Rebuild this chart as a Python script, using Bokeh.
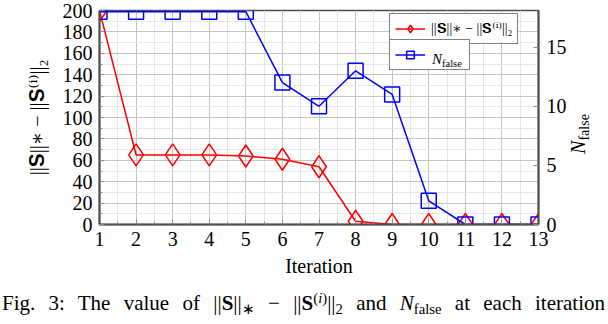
from bokeh.plotting import figure
from bokeh.layouts import column
from bokeh.models import (Range1d, LinearAxis, Legend, LegendItem, Div,
                          FixedTicker, ColumnDataSource)
from bokeh.embed import file_html
from bokeh.resources import INLINE

# ---- data ----
iterations = [1, 2, 3, 4, 5, 6, 7, 8, 9, 10, 11, 12, 13]
norm_gap = [200, 65, 65, 65, 64, 61, 54, 3, 0, 0, 0, 0, 0]
n_false = [18, 18, 18, 18, 18, 12, 10, 13, 11, 2, 0, 0, 0]
left_ticks = [0, 20, 40, 60, 80, 100, 120, 140, 160, 180, 200]
right_ticks = [0, 5, 10, 15]

FONT = "'Liberation Serif', 'DejaVu Serif'"
AX = "#4d4d4d"
NORM = "||𝐒||∗ − ||𝐒⁽ⁱ⁾||₂"

W, H = 608, 291
FL, FR, FT, FB = 99, 538, 10, 224   # frame edges in page pixels

p = figure(width=W, height=H, output_backend="svg", toolbar_location=None,
           title=None, x_range=Range1d(1, 13), y_range=Range1d(0, 200),
           min_border_left=FL, min_border_right=W - FR, min_border_top=FT,
           min_border_bottom=H - FB)
p.extra_y_ranges = {"right": Range1d(0, 18.1)}

src = ColumnDataSource(dict(it=iterations, gap=norm_gap, nf=n_false))

# grid
p.xgrid.ticker = FixedTicker(ticks=iterations,
                             minor_ticks=[i + 0.5 for i in iterations[:-1]])
p.xgrid.grid_line_color = "#c4c4c4"
p.xgrid.minor_grid_line_color = "#e6e6e6"
p.ygrid.ticker = FixedTicker(ticks=left_ticks,
                             minor_ticks=[t + 10 for t in left_ticks[:-1]])
p.ygrid.grid_line_color = "#c4c4c4"
p.ygrid.minor_grid_line_color = "#e6e6e6"
p.outline_line_color = AX
p.outline_line_width = 1.5

# axes
p.xaxis.ticker = FixedTicker(ticks=iterations,
                             minor_ticks=[i + 0.5 for i in iterations[:-1]])
p.yaxis.ticker = FixedTicker(ticks=left_ticks,
                             minor_ticks=[t + 10 for t in left_ticks[:-1]])
for ax in (p.xaxis[0], p.yaxis[0]):
    ax.axis_line_color = AX
    ax.axis_line_width = 2
    ax.major_tick_in = 5
    ax.major_tick_out = 0
    ax.minor_tick_in = 3
    ax.minor_tick_out = 0
    ax.major_tick_line_color = "#888888"
    ax.minor_tick_line_color = "#888888"
    ax.major_label_text_font = FONT
    ax.major_label_text_font_size = "20px"
    ax.major_label_text_color = "black"
    ax.axis_label_text_font = FONT
    ax.axis_label_text_font_size = "20px"
    ax.axis_label_text_font_style = "normal"
    ax.axis_label_text_color = "black"
p.xaxis.major_label_standoff = 7
p.yaxis.major_label_standoff = 7
p.xaxis.axis_label = "Iteration"
p.xaxis.axis_label_standoff = 6
p.yaxis.axis_label = NORM
p.yaxis.axis_label_standoff = 12

ry = LinearAxis(y_range_name="right", ticker=FixedTicker(ticks=right_ticks))
ry.axis_line_color = AX
ry.axis_line_width = 2
ry.major_tick_in = 5
ry.major_tick_out = 0
ry.minor_tick_in = 0
ry.minor_tick_out = 0
ry.major_tick_line_color = "#888888"
ry.major_label_text_font = FONT
ry.major_label_text_font_size = "20px"
ry.major_label_text_color = "black"
ry.major_label_standoff = 8
p.add_layout(ry, "right")

# series
rl = p.line("it", "gap", source=src, color="red", line_width=1.5)
rs = p.scatter("it", "gap", source=src, marker="diamond", size=22,
               line_color="red", fill_alpha=0, line_width=1.5)
bl = p.line("it", "nf", source=src, color="blue", line_width=1.5,
            y_range_name="right")
bs = p.scatter("it", "nf", source=src, marker="square", size=15,
               line_color="blue", fill_alpha=0, line_width=1.5,
               y_range_name="right")

def mk_legend(label, rends, loc, lw):
    lg = Legend(items=[LegendItem(label=label, renderers=rends)],
                location=loc, margin=0, padding=5, spacing=0,
                glyph_width=30, glyph_height=19, label_width=lw,
                label_text_font=FONT, label_text_font_size="14px",
                label_text_color="black",
                border_line_color="black", border_line_width=1,
                background_fill_alpha=1, label_standoff=6)
    p.add_layout(lg)
    return lg

mk_legend(NORM, [rl, rs], (290, 180), 80)
mk_legend(" ", [bl, bs], (290, 154), 33)

SERIF = "'Liberation Serif', serif"
SUB = ('style="font-size:70%;vertical-align:baseline;position:relative;'
       'top:0.3em;line-height:0"')
SUP = ('style="font-size:70%;vertical-align:baseline;position:relative;'
       'top:-0.5em;line-height:0"')

# N_false text inside the second legend box (HTML overlay)
leg2_text = Div(
    text=f'<i>N</i><sub {SUB}>false</sub>',
    width=40, height=18, margin=0,
    styles={"position": "absolute", "left": "432px", "top": "50px",
            "font-family": SERIF, "font-size": "15px", "color": "black",
            "line-height": "18px", "white-space": "nowrap"})

# right axis label, rotated (HTML overlay)
right_label = Div(
    text=f'<i>N</i><sub {SUB}>false</sub>',
    width=60, height=26, margin=0,
    styles={"position": "absolute", "left": "548px", "top": "121px",
            "transform": "rotate(-90deg)", "transform-origin": "50% 50%",
            "text-align": "center", "font-family": SERIF,
            "font-size": "20px", "color": "black", "line-height": "26px",
            "white-space": "nowrap"})

caption = Div(
    text=('<div style="width:603px;text-align:justify;'
          'text-align-last:justify;">'
          f"Fig. 3: The value of ||<b>S</b>||<sub {SUB}>∗</sub> − "
          f"||<b>S</b><sup {SUP}>(<i>i</i>)</sup>||<sub {SUB}>2</sub> and "
          f"<i>N</i><sub {SUB}>false</sub> at each iteration</div>"),
    width=606, height=33, margin=(0, 0, 0, 2),
    styles={"font-family": SERIF, "font-size": "21px",
            "color": "black", "line-height": "24px"})

layout = column(p, caption, leg2_text, right_label, spacing=0)
open("out.html", "w").write(file_html(layout, INLINE))
